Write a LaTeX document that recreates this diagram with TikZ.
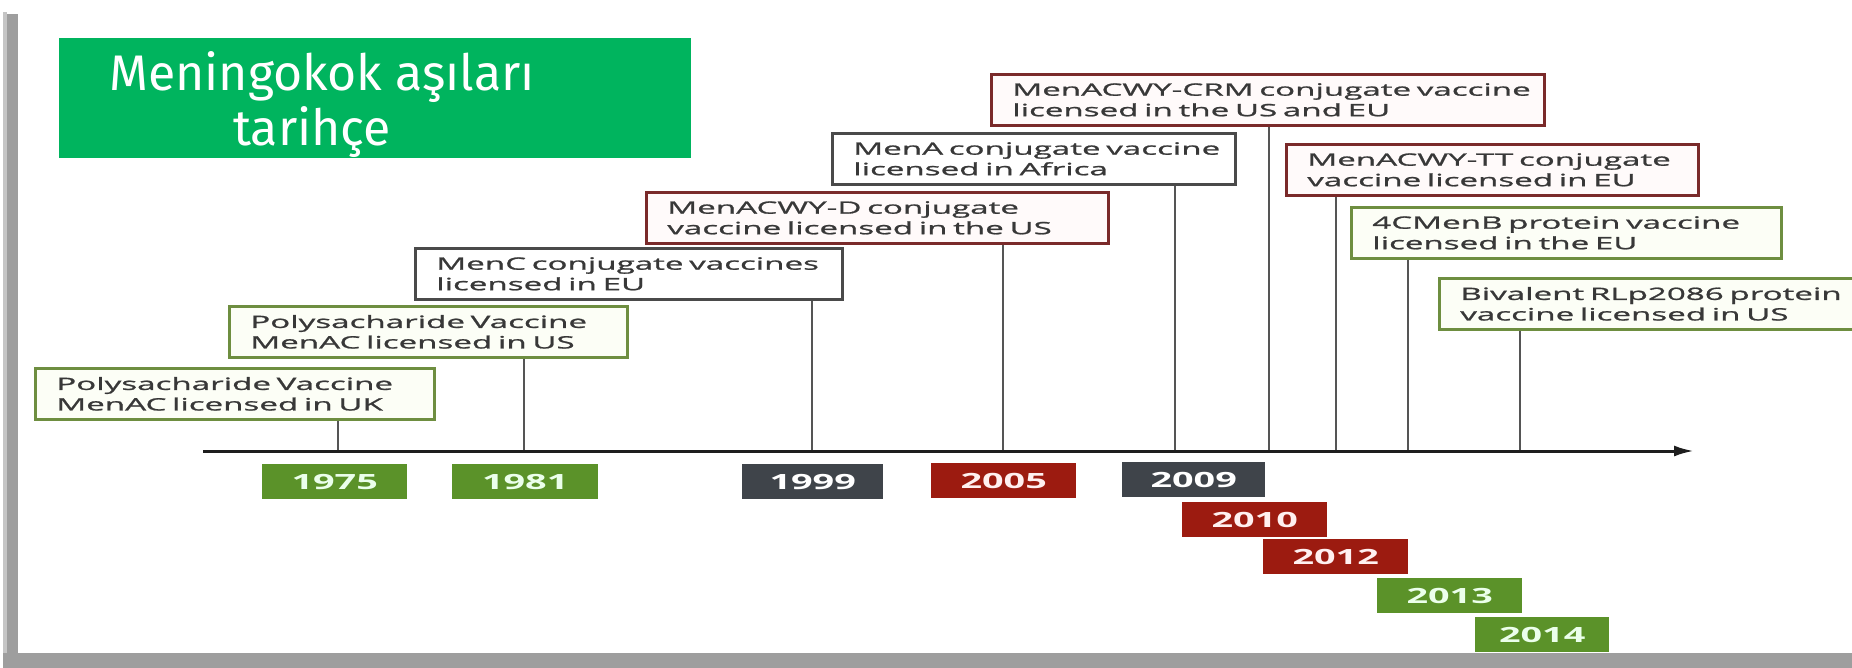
\documentclass[tikz,border=0pt]{standalone}
\usepackage{fontspec}
\usetikzlibrary{arrows.meta}
\newfontfamily\evfont[FakeStretch=1.95,FakeBold=1.2]{Open Sans}
\newfontfamily\yrfont[FakeStretch=1.8]{Open Sans}
\newfontfamily\ttlfont{Fira Sans}
\definecolor{titlegreen}{HTML}{00B45E}
\definecolor{yrgreen}{HTML}{5B9229}
\definecolor{yrred}{HTML}{9C1B10}
\definecolor{yrgrey}{HTML}{3F444A}
\definecolor{bdgreen}{HTML}{6E8E40}
\definecolor{bdred}{HTML}{7A2A2A}
\definecolor{bdgrey}{HTML}{4A4A4A}
\definecolor{fillgreen}{HTML}{FCFEF6}
\definecolor{fillred}{HTML}{FFFAFA}
\definecolor{framegrey}{HTML}{9E9E9E}
\definecolor{conncol}{HTML}{555555}
\definecolor{axiscol}{HTML}{1E1E1E}
\definecolor{evtext}{HTML}{383838}
\newcommand\evline[1]{\mbox{#1}}
\tikzset{
  evbox/.style={draw, line width=2.6pt, anchor=north west, inner xsep=21pt, inner ysep=0pt,
    align=left, minimum height=51pt, text=evtext,
    font=\evfont\fontsize{17}{20.5}\selectfont},
  evgreen/.style={evbox, draw=bdgreen, fill=fillgreen},
  evred/.style={evbox, draw=bdred, fill=fillred},
  evgrey/.style={evbox, draw=bdgrey, fill=white},
  yrbox/.style={anchor=north west, inner sep=0pt, minimum height=35pt,
    font=\yrfont\bfseries\fontsize{21}{24}\selectfont},
  conn/.style={draw=conncol, line width=1.8pt},
  axisline/.style={draw=axiscol, line width=3pt, -{Latex[length=20pt,width=11pt]}},
  ttltext/.style={text=white, anchor=base, inner sep=0pt, font=\ttlfont\fontsize{50}{55}\selectfont}
}
\begin{document}
\begin{tikzpicture}[x=1pt,y=-1pt]
\useasboundingbox (0,0) rectangle (1852,668);
\clip (0,0) rectangle (1852,668);
\fill[white] (0,0) rectangle (1852,668);
% frame
\fill[framegrey!60] (3,12) rectangle (7,668);
\fill[framegrey] (7,14) rectangle (18,668);
\fill[framegrey] (3,653) rectangle (1852,668);
% title
\node[fill=titlegreen, anchor=north west, inner sep=0pt, minimum width=632pt, minimum height=120pt] (ttl) at (59,38) {};
\node[ttltext] (ttl1) at (322,91) {Meningokok aşıları};
\node[ttltext] (ttl2) at (312,146) {tarihçe};
% axis coordinates
\coordinate (a0) at (203,451);
\coordinate (a1) at (1694,451);
\coordinate (t1) at (338,451);
\coordinate (t2) at (524,451);
\coordinate (t3) at (812,451);
\coordinate (t4) at (1003,451);
\coordinate (t5) at (1175,451);
\coordinate (t6) at (1269,451);
\coordinate (t7) at (1336,451);
\coordinate (t8) at (1408,451);
\coordinate (t9) at (1520,451);
% event boxes
\node[evgreen, text width=357pt] (e1) at (34,367) {\evline{Polysacharide Vaccine}\\\evline{MenAC licensed in UK}};
\node[evgreen, text width=356pt] (e2) at (228,305) {\evline{Polysacharide Vaccine}\\\evline{MenAC licensed in US}};
\node[evgrey, text width=385pt] (e3) at (414,247) {\evline{MenC conjugate vaccines}\\\evline{licensed in EU}};
\node[evred, text width=420pt] (e4) at (645,191) {\evline{MenACWY-D conjugate}\\\evline{vaccine licensed in the US}};
\node[evgrey, text width=361pt] (e5) at (831,132) {\evline{MenA conjugate vaccine}\\\evline{licensed in Africa}};
\node[evred, text width=511pt] (e6) at (990,73) {\evline{MenACWY-CRM conjugate vaccine}\\\evline{licensed in the US and EU}};
\node[evred, text width=370pt] (e7) at (1285,143) {\evline{MenACWY-TT conjugate}\\\evline{vaccine licensed in EU}};
\node[evgreen, text width=388pt] (e8) at (1350,206) {\evline{4CMenB protein vaccine}\\\evline{licensed in the EU}};
\node[evgreen, text width=400pt] (e9) at (1438,277) {\evline{Bivalent RLp2086 protein}\\\evline{vaccine licensed in US}};
% connectors
\draw[conn] (e1.south -| t1) -- (t1);
\draw[conn] (e2.south -| t2) -- (t2);
\draw[conn] (e3.south -| t3) -- (t3);
\draw[conn] (e4.south -| t4) -- (t4);
\draw[conn] (e5.south -| t5) -- (t5);
\draw[conn] (e6.south -| t6) -- (t6);
\draw[conn] (e7.south -| t7) -- (t7);
\draw[conn] (e8.south -| t8) -- (t8);
\draw[conn] (e9.south -| t9) -- (t9);
\draw[axisline] (a0) -- (a1);
% year boxes
\node[yrbox, fill=yrgreen, text=green!8!white, minimum width=145pt] (y1975) at (262,464) {1975};
\node[yrbox, fill=yrgreen, text=green!8!white, minimum width=146pt] (y1981) at (452,464) {1981};
\node[yrbox, fill=yrgrey, text=white, minimum width=141pt] (y1999) at (742,464) {1999};
\node[yrbox, fill=yrred, text=red!6!white, minimum width=145pt] (y2005) at (931,463) {2005};
\node[yrbox, fill=yrgrey, text=white, minimum width=143pt] (y2009) at (1122,462) {2009};
\node[yrbox, fill=yrred, text=red!6!white, minimum width=145pt] (y2010) at (1182,502) {2010};
\node[yrbox, fill=yrred, text=red!6!white, minimum width=145pt] (y2012) at (1263,539) {2012};
\node[yrbox, fill=yrgreen, text=green!8!white, minimum width=145pt] (y2013) at (1377,578) {2013};
\node[yrbox, fill=yrgreen, text=green!8!white, minimum width=134pt] (y2014) at (1475,617) {2014};
% bottom frame over last box
\fill[framegrey] (3,653) rectangle (1852,668);
\end{tikzpicture}
\end{document}
